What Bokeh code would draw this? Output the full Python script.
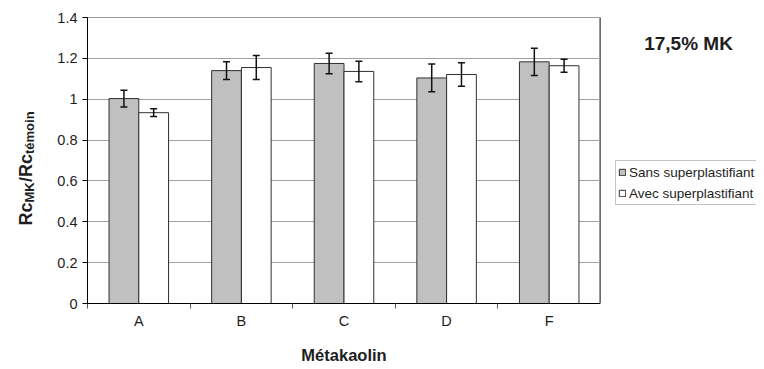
import math
from bokeh.plotting import figure
from bokeh.layouts import row
from bokeh.models import (Range1d, FixedTicker, Whisker, TeeHead, ColumnDataSource,
                          Legend, LegendItem, Label)
from bokeh.embed import file_html
from bokeh.resources import INLINE

# ---- data ----
categories = ["A", "B", "C", "D", "F"]
sans_sp = [1.003, 1.140, 1.175, 1.104, 1.183]
sans_sp_err = [0.041, 0.044, 0.050, 0.068, 0.067]
avec_sp = [0.934, 1.155, 1.136, 1.121, 1.164]
avec_sp_err = [0.019, 0.059, 0.050, 0.057, 0.032]
y_ticks = [0, 0.2, 0.4, 0.6, 0.8, 1.0, 1.2, 1.4]
y_tick_labels = ["0", "0.2", "0.4", "0.6", "0.8", "1", "1.2", "1.4"]
series_names = ["Sans superplastifiant", "Avec superplastifiant"]
title_text = "17,5% MK"
x_title = "Métakaolin"

FONT = "Liberation Sans"
TXT = "#1e1e1e"
BAR_W = 0.29
H = 366
FRAME_BOTTOM = 307          # page pixel row of the plot frame's bottom edge
FILL_SANS = "#c0c0c0"
FILL_AVEC = "white"
EDGE = "#303030"

centers = [i + 0.5 for i in range(len(categories))]
boundaries = list(range(len(categories) + 1))


def make_src(vals, errs, shift):
    return ColumnDataSource(dict(
        x=[c + shift for c in centers],
        top=vals,
        upper=[v + e for v, e in zip(vals, errs)],
        lower=[v - e for v, e in zip(vals, errs)],
    ))


def blank_fig(w):
    f = figure(width=w, height=H, x_range=Range1d(0, 1), y_range=Range1d(0, 1),
               x_axis_location=None, y_axis_location=None,
               output_backend="svg", toolbar_location=None, min_border=0)
    f.grid.visible = False
    f.outline_line_color = None
    f.background_fill_color = "white"
    f.border_fill_color = "white"
    return f


src_sans = make_src(sans_sp, sans_sp_err, -BAR_W / 2)
src_avec = make_src(avec_sp, avec_sp_err, BAR_W / 2)

# ---------------- main plot ----------------
LEFT_W = 40
p = figure(width=600 - LEFT_W, height=H,
           x_range=Range1d(0, len(categories)), y_range=Range1d(0, y_ticks[-1]),
           output_backend="svg", toolbar_location=None,
           min_border_left=87 - LEFT_W, min_border_right=0, min_border_top=17,
           min_border_bottom=H - FRAME_BOTTOM)
p.background_fill_color = "white"
p.border_fill_color = "white"
p.outline_line_color = "#9a9a9a"

p.xgrid.visible = False
p.ygrid.grid_line_color = "#a0a0a0"
p.ygrid.grid_line_width = 1

p.yaxis.ticker = FixedTicker(ticks=y_ticks, minor_ticks=[])
p.yaxis.major_label_overrides = {t: l for t, l in zip(y_ticks, y_tick_labels)}
p.yaxis.major_tick_out = 5
p.yaxis.major_tick_in = 0
p.yaxis.major_label_standoff = 5
p.yaxis.axis_line_color = "black"
p.yaxis.major_tick_line_color = "black"

p.xaxis.ticker = FixedTicker(ticks=centers, minor_ticks=boundaries)
p.xaxis.major_label_overrides = {c: l for c, l in zip(centers, categories)}
p.xaxis.major_tick_out = 0
p.xaxis.major_tick_in = 0
p.xaxis.minor_tick_out = 5
p.xaxis.minor_tick_in = 0
p.xaxis.minor_tick_line_color = "#555555"
p.xaxis.major_label_standoff = 4
p.xaxis.axis_line_color = "black"
p.xaxis.axis_label = x_title
p.xaxis.axis_label_standoff = 14
p.xaxis.axis_label_text_font_style = "bold"
p.xaxis.axis_label_text_font_size = "16.5px"

for ax in (p.xaxis, p.yaxis):
    ax.major_label_text_font = FONT
    ax.major_label_text_font_size = "14.5px"
    ax.major_label_text_color = TXT
    ax.axis_label_text_font = FONT
    ax.axis_label_text_color = TXT

p.vbar(x="x", top="top", width=BAR_W, bottom=0, source=src_sans,
       fill_color=FILL_SANS, line_color=EDGE, line_width=1)
p.vbar(x="x", top="top", width=BAR_W, bottom=0, source=src_avec,
       fill_color=FILL_AVEC, line_color=EDGE, line_width=1)

for src in (src_sans, src_avec):
    p.add_layout(Whisker(base="x", upper="upper", lower="lower", source=src,
                         level="overlay", line_color="#111111", line_width=1.5,
                         upper_head=TeeHead(size=7, line_color="#111111", line_width=1.5),
                         lower_head=TeeHead(size=7, line_color="#111111", line_width=1.5)))

# Side strips: their frames are aligned with the main frame (rows 17..307),
# so screen y below is measured upward from page row FRAME_BOTTOM.

# ---------------- left strip: y-axis title with subscripts ----------------
left = blank_fig(LEFT_W)
ylab_parts = [("Rc", "18px", 25.5, FRAME_BOTTOM - 229),
              ("MK", "13px", 29.0, FRAME_BOTTOM - 206),
              ("/Rc", "18px", 25.5, FRAME_BOTTOM - 185.5),
              ("témoin", "13px", 29.0, FRAME_BOTTOM - 157.5)]
for txt, size, xx, yy in ylab_parts:
    left.add_layout(Label(x=xx, y=yy, x_units="screen", y_units="screen", text=txt,
                          angle=math.pi / 2, text_align="left", text_baseline="alphabetic",
                          text_font=FONT, text_font_size=size, text_font_style="bold",
                          text_color=TXT))

# ---------------- right strip: title and legend ----------------
right = blank_fig(156)
# legend proxies (one hidden bar each, outside the strip's visible range)
d1 = right.vbar(x=[-5], top=[1], bottom=0, width=0.1, fill_color=FILL_SANS, line_color=EDGE)
d2 = right.vbar(x=[-5], top=[1], bottom=0, width=0.1, fill_color=FILL_AVEC, line_color=EDGE)
legend = Legend(items=[LegendItem(label=series_names[0], renderers=[d1]),
                       LegendItem(label=series_names[1], renderers=[d2])],
                location=(15, FRAME_BOTTOM - 209), orientation="vertical",
                label_text_font=FONT, label_text_font_size="13.5px", label_text_color=TXT,
                glyph_width=8, glyph_height=8, label_standoff=3, label_height=18,
                padding=2, spacing=3, margin=0,
                border_line_color="#8a8a8a", border_line_width=1,
                background_fill_color="white", background_fill_alpha=1.0)
right.add_layout(legend)
right.add_layout(Label(x=88, y=FRAME_BOTTOM - 47, x_units="screen", y_units="screen",
                       text=title_text, text_align="center", text_baseline="alphabetic",
                       text_font=FONT, text_font_size="19px", text_font_style="bold",
                       text_color=TXT))

layout = row(left, p, right)
open("out.html", "w").write(file_html(layout, INLINE))
